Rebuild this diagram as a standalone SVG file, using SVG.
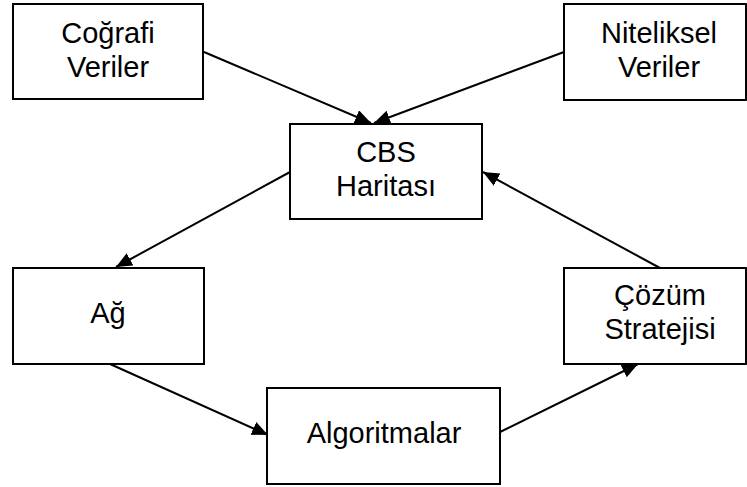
<svg xmlns="http://www.w3.org/2000/svg" width="747" height="487" viewBox="0 0 747 487">
  <style>
    .box { fill: #ffffff; stroke: #000000; stroke-width: 2; }
    .lbl { font-family: "Liberation Sans", Arial, sans-serif; font-size: 29px; fill: #000000; text-anchor: middle; }
    .edge { stroke: #000000; stroke-width: 2; fill: none; marker-end: url(#arrow); }
  </style>
  <defs>
    <marker id="arrow" markerUnits="userSpaceOnUse" markerWidth="17" markerHeight="15" refX="16" refY="7" orient="auto">
      <path d="M0,0 L16,7 L0,14 z" fill="#000000"/>
    </marker>
  </defs>
  <rect width="747" height="487" fill="#ffffff"/>

  <g id="connectors">
    <line class="edge" x1="204" y1="52" x2="371" y2="123"/>
    <line class="edge" x1="564" y1="52" x2="374" y2="123"/>
    <line class="edge" x1="290" y1="172" x2="116" y2="267"/>
    <line class="edge" x1="110" y1="364" x2="268" y2="435"/>
    <line class="edge" x1="500" y1="432" x2="638" y2="364"/>
    <line class="edge" x1="660" y1="268" x2="483" y2="172"/>
  </g>

  <g id="cografi-veriler">
    <rect class="box" x="13" y="4" width="190" height="95"/>
    <text class="lbl" x="108" y="43">Coğrafi</text>
    <text class="lbl" x="108" y="77">Veriler</text>
  </g>

  <g id="niteliksel-veriler">
    <rect class="box" x="564" y="4" width="182" height="96"/>
    <text class="lbl" x="659" y="43">Niteliksel</text>
    <text class="lbl" x="659" y="77">Veriler</text>
  </g>

  <g id="cbs-haritasi">
    <rect class="box" x="290" y="124" width="192" height="95"/>
    <text class="lbl" x="386" y="162">CBS</text>
    <text class="lbl" x="386" y="196">Haritası</text>
  </g>

  <g id="ag">
    <rect class="box" x="13" y="268" width="191" height="96"/>
    <text class="lbl" x="108" y="323">Ağ</text>
  </g>

  <g id="cozum-stratejisi">
    <rect class="box" x="564" y="268" width="182" height="96"/>
    <text class="lbl" x="660" y="305">Çözüm</text>
    <text class="lbl" x="660" y="339">Stratejisi</text>
  </g>

  <g id="algoritmalar">
    <rect class="box" x="267" y="388" width="233" height="96"/>
    <text class="lbl" x="384" y="443">Algoritmalar</text>
  </g>
</svg>
